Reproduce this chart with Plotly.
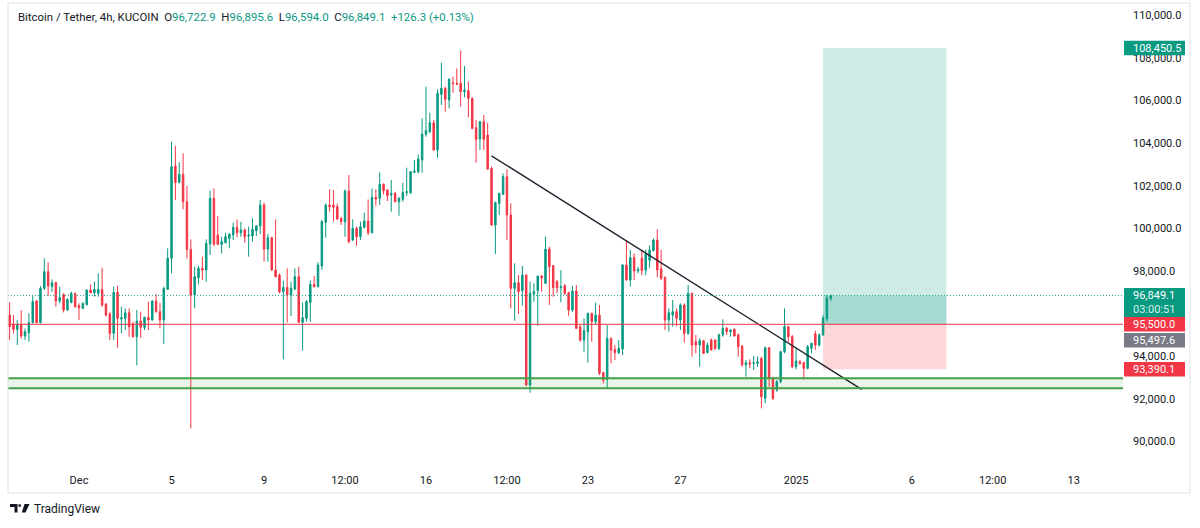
import pandas as pd
import plotly.graph_objects as go

# ---------------- data ----------------
bar_start = "2024-11-28 00:00"   # first 4h bar

opens = [95934, 95465, 95262, 95465, 94950, 95106, 95575, 96591, 95575, 97185,
         97966, 97263, 97451, 96591, 96903, 96169, 96528, 96950, 96372, 96247,
         96419, 97107, 96982, 96950, 97138, 96450, 95981, 95075, 96997, 95747,
         95778, 96044, 95512, 94918, 95653, 95356, 95825, 95700, 96591, 96090,
         95700, 97138, 98592, 102921, 102155, 102530, 101248, 99013, 96872, 97685,
         98123, 98045, 99264, 101405, 99685, 99248, 99326, 99529, 99685, 100045,
         99795, 99920, 99639, 99639, 99889, 100108, 101092, 99029, 99560, 98045,
         97810, 97029, 97232, 96872, 97154, 97732, 95591, 95778, 96528, 97372,
         97263, 98232, 100280, 101092, 101092, 101014, 100466, 100310, 101748, 99450,
         99997, 99606, 100044, 100341, 99794, 101451, 101404, 102060, 101795, 101560,
         101638, 101247, 101357, 101670, 101670, 102623, 102654, 103201, 104405, 104530,
         104952, 103670, 106280, 106562, 106015, 106827, 106796, 106796, 106405, 106452,
         106093, 104717, 104186, 104999, 104374, 102811, 100154, 101170, 101592, 102421,
         100623, 97185, 97451, 97076, 97810, 92652, 96919, 97076, 97763, 97419,
         99029, 98248, 97497, 97216, 97310, 96982, 96169, 97060, 95387, 94762,
         95153, 96013, 95622, 95934, 93230, 92918, 94840, 94324, 94168, 94340,
         98279, 97575, 98623, 98013, 98600, 98040, 98500, 98960, 99452, 98100,
         97702, 95701, 95936, 96092, 95701, 96405, 95076, 96951, 94685, 94529,
         94732, 94170, 94763, 94763, 94373, 94998, 95310, 95154, 95263, 94998,
         94482, 93591, 93700, 93669, 93669, 93904, 92028, 94404, 92966, 92418,
         92810, 94216, 95388, 94920, 93513, 93747, 93700, 93435, 94373, 95050,
         94530, 95000, 95750, 96722.9]

highs = [96528, 95934, 95700, 96169, 95309, 96013, 96825, 96638, 97294, 98592,
         98404, 97607, 97497, 97263, 96950, 96716, 97029, 96982, 96481, 96528,
         97138, 97372, 97497, 97888, 98154, 96481, 96090, 97263, 97310, 96325,
         96247, 96247, 95622, 96169, 96090, 95856, 96559, 96638, 96919, 96513,
         97263, 99061, 104062, 103859, 103093, 103515, 101983, 99482, 98201, 98232,
         98670, 99482, 101764, 101874, 100576, 99607, 99795, 99764, 100264, 100420,
         100311, 99998, 100076, 100467, 100154, 101327, 101202, 99732, 99607, 100420,
         97888, 97544, 98123, 97497, 98123, 98201, 96528, 96638, 97544, 97763,
         98404, 100389, 101170, 101827, 101796, 101170, 100544, 101826, 102498, 100419,
         100075, 100310, 100732, 101357, 101873, 101826, 102623, 102107, 101826, 102263,
         101716, 101482, 102138, 102842, 102686, 103201, 103467, 105155, 106640, 105421,
         105077, 106515, 107765, 106640, 107031, 107109, 107499, 108328, 107609, 106874,
         106140, 105077, 105046, 105311, 104952, 102889, 101248, 101670, 102577, 102765,
         101170, 98357, 97810, 98232, 97841, 97497, 97419, 97779, 97810, 99607,
         99138, 98279, 97575, 98045, 97388, 97029, 97310, 97341, 95465, 95778,
         96044, 96044, 96513, 96403, 93277, 95465, 94887, 94528, 94762, 98326,
         99451, 98982, 98826, 98201, 99000, 99000, 99200, 99530, 99952, 98983,
         97733, 96248, 96639, 96248, 96483, 96483, 97342, 96983, 94998, 94841,
         94763, 94638, 94841, 94795, 95076, 95732, 95388, 95263, 95310, 95076,
         94529, 93825, 93857, 94013, 93982, 93982, 94451, 94420, 93044, 92888,
         94263, 96248, 95420, 94998, 94373, 93825, 93747, 94529, 94638, 95200,
         95076, 95935, 96873, 96895.6]

lows = [94762, 95075, 94528, 94840, 94762, 94684, 95544, 95544, 95544, 97107,
        96825, 97029, 96325, 96481, 96059, 96137, 96481, 96278, 95700, 96216,
        96388, 96950, 96794, 96794, 96325, 95856, 94762, 94762, 94402, 95075,
        95231, 94918, 94887, 93574, 94872, 95231, 95231, 95669, 96044, 95309,
        94575, 97107, 97888, 101327, 102108, 100889, 98592, 90620, 96247, 97372,
        97575, 97497, 98748, 99170, 99217, 98826, 99295, 99061, 99451, 99576,
        99607, 99326, 98670, 99373, 99639, 99732, 98435, 98435, 98013, 97700,
        96950, 93855, 95575, 95887, 97107, 95575, 94262, 95622, 95622, 97232,
        97232, 98045, 99560, 100780, 100311, 100389, 100154, 99606, 99294, 99403,
        99184, 99450, 99997, 99685, 99763, 101060, 101091, 101591, 101279, 100779,
        101216, 100591, 101247, 101513, 101607, 102576, 102576, 102607, 104295, 104452,
        103639, 103311, 105780, 105468, 105624, 106358, 106718, 105702, 106140, 105202,
        104639, 103076, 103670, 103670, 102732, 100122, 98795, 100623, 101561, 99451,
        96247, 95669, 95981, 96372, 92605, 92293, 96559, 95419, 97029, 97388,
        96403, 96794, 96950, 96528, 96872, 95903, 96090, 95278, 94684, 94215,
        93699, 94684, 95465, 93121, 92730, 92496, 93668, 93824, 94106, 94059,
        97544, 97263, 97575, 97888, 97800, 97800, 98150, 98900, 97700, 97577,
        95232, 95154, 95388, 95420, 95232, 94638, 94998, 93982, 94138, 93513,
        94107, 94138, 94263, 94294, 94294, 94920, 94998, 94920, 94920, 93982,
        93513, 93044, 93435, 93357, 93513, 91559, 91794, 92575, 91950, 92341,
        92732, 94138, 94685, 93435, 93388, 93591, 92919, 93388, 94138, 94300,
        94451, 94967, 95623, 96594.0]

closes = [95387, 95262, 95465, 94950, 95153, 95575, 96559, 95575, 97185, 97966,
          97294, 97451, 96591, 96747, 96169, 96669, 96950, 96325, 96278, 96481,
          97107, 96982, 97138, 97138, 96403, 95934, 95075, 96997, 95778, 95809,
          96044, 95387, 94918, 95653, 95356, 95825, 95700, 96591, 96090, 95700,
          97185, 98592, 102890, 102155, 102530, 101248, 99013, 96872, 97732, 98123,
          98045, 99295, 101405, 99248, 99248, 99373, 99607, 99732, 100045, 99795,
          99920, 99607, 99685, 99951, 100108, 101092, 99029, 99560, 98045, 97732,
          97029, 97232, 96872, 97185, 97732, 95591, 95809, 96559, 97372, 97263,
          98279, 100311, 101092, 101014, 100983, 100436, 100310, 101748, 99372, 99997,
          99606, 100075, 100341, 99794, 101451, 101373, 102060, 101763, 101529, 101638,
          101247, 101404, 101685, 101716, 102654, 102686, 103248, 104420, 104577, 104952,
          103670, 106327, 106562, 106046, 106984, 106796, 106749, 106405, 106484, 106093,
          104686, 104170, 104999, 104170, 102779, 100154, 101202, 101639, 102421, 100623,
          97185, 97451, 97029, 97810, 92652, 96950, 97029, 97763, 97685, 99029,
          98201, 97216, 97216, 97263, 96950, 96169, 97060, 95309, 94762, 95200,
          96013, 95622, 95934, 93199, 92886, 94840, 94293, 94168, 94371, 98279,
          97575, 98623, 97998, 98076, 98020, 98800, 98980, 99450, 98046, 97655,
          95701, 96045, 96092, 95779, 96405, 95076, 96951, 94529, 94529, 94732,
          94138, 94529, 94294, 94373, 94998, 95310, 95154, 95232, 94951, 94451,
          93591, 93700, 93637, 93700, 93747, 92106, 94404, 92966, 92028, 92810,
          94216, 95388, 94920, 93513, 93779, 93669, 93435, 94451, 94607, 94530,
          95000, 95800, 96722.8, 96849.1]

symbol_title = "Bitcoin / Tether, 4h, KUCOIN"

tick_dates = ["2024-12-01 00:00", "2024-12-05 00:00", "2024-12-09 00:00",
              "2024-12-12 12:00", "2024-12-16 00:00", "2024-12-19 12:00",
              "2024-12-23 00:00", "2024-12-27 00:00", "2025-01-01 00:00",
              "2025-01-06 00:00", "2025-01-09 12:00", "2025-01-13 00:00"]
tick_labels = ["Dec", "5", "9", "12:00", "16", "12:00", "23", "27", "2025",
               "6", "12:00", "13"]

# 96,000 is hidden behind the price labels in the reference
price_ticks = [90000, 92000, 94000, 98000, 100000, 102000, 104000,
               106000, 108000, 110000]

trend_times = ["2024-12-18 20:00", "2025-01-03 20:00"]
trend_prices = [103400, 92450]

zone_low = 92500
zone_high = 92970
horizontal_level = 95500

position_start = "2025-01-02 04:00"
position_end = "2025-01-07 12:00"
entry_price = 95497.6
target_price = 108450.5
stop_price = 93390.1
countdown = "03:00:51"

# ---------------- layout constants ----------------
W, H = 1200, 528
PL, PR, PT, PB = 8, 1123, 3, 465          # plot area in pixels
Y_MIN, Y_MAX = 88904, 110563

GREEN = "#089981"
RED = "#F23645"
TEXT = "#131722"
FONT = "Roboto"

t0 = pd.Timestamp(bar_start)
times = pd.date_range(bar_start, periods=len(opens), freq="4h")
x_range = [t0 - pd.Timedelta(hours=1.66), t0 + pd.Timedelta(hours=1155.2)]


def pxx(px):
    return (px - PL) / (PR - PL)


def pxy(py):
    return (PB - py) / (PB - PT)


def price_to_py(p):
    return PB - (p - Y_MIN) / (Y_MAX - Y_MIN) * (PB - PT)


fig = go.Figure()

fig.add_trace(go.Candlestick(
    x=times, open=opens, high=highs, low=lows, close=closes,
    increasing=dict(line=dict(color=GREEN, width=1), fillcolor=GREEN),
    decreasing=dict(line=dict(color=RED, width=1), fillcolor=RED),
    whiskerwidth=0, hoverinfo="skip", showlegend=False,
))

fig.add_trace(go.Scatter(
    x=pd.to_datetime(trend_times), y=trend_prices, mode="lines",
    line=dict(color="#1e222d", width=1.4), hoverinfo="skip", showlegend=False,
))

shapes = []
# green support zone
shapes.append(dict(type="rect", xref="paper", yref="y", x0=0, x1=1,
                   y0=zone_low, y1=zone_high, fillcolor="rgba(76,175,80,0.13)",
                   line=dict(width=0), layer="below"))
for lvl in (zone_low, zone_high):
    shapes.append(dict(type="line", xref="paper", yref="y", x0=0, x1=1,
                       y0=lvl, y1=lvl, line=dict(color="#43A047", width=2)))
# long position tool
shapes.append(dict(type="rect", xref="x", yref="y", x0=position_start, x1=position_end,
                   y0=entry_price, y1=target_price, fillcolor="rgba(8,153,129,0.2)",
                   line=dict(width=0), layer="below"))
shapes.append(dict(type="rect", xref="x", yref="y", x0=position_start, x1=position_end,
                   y0=entry_price, y1=closes[-1], fillcolor="rgba(8,153,129,0.2)",
                   line=dict(width=0), layer="below"))
shapes.append(dict(type="rect", xref="x", yref="y", x0=position_start, x1=position_end,
                   y0=stop_price, y1=entry_price, fillcolor="rgba(242,54,69,0.2)",
                   line=dict(width=0), layer="below"))
# horizontal red level and current price line
shapes.append(dict(type="line", xref="paper", yref="y", x0=0, x1=1,
                   y0=horizontal_level, y1=horizontal_level, line=dict(color=RED, width=1)))
shapes.append(dict(type="line", xref="paper", yref="y", x0=0, x1=1,
                   y0=closes[-1], y1=closes[-1],
                   line=dict(color="#22ab94", width=1, dash="1px,2px")))

# outer frame
shapes.append(dict(type="rect", xref="paper", yref="paper", x0=pxx(8), x1=pxx(1190),
                   y0=pxy(493), y1=pxy(3), line=dict(color="#E0E3EB", width=1),
                   fillcolor="rgba(0,0,0,0)", layer="above"))

annotations = []


def price_box(center_py, height, color, lines):
    top = center_py - height / 2
    shapes.append(dict(type="rect", xref="paper", yref="paper",
                       x0=pxx(1124), x1=pxx(1185), y0=pxy(top + height), y1=pxy(top),
                       fillcolor=color, line=dict(width=0), layer="above"))
    n = len(lines)
    for k, (txt, col) in enumerate(lines):
        cy = top + height * (k + 0.5) / n
        annotations.append(dict(xref="paper", yref="paper", x=pxx(1131), y=pxy(cy),
                                xanchor="left", yanchor="middle", showarrow=False,
                                text=txt, font=dict(family=FONT, size=11, color=col)))


price_box(price_to_py(target_price), 14.5, GREEN, [(f"{target_price:,.1f}", "white")])
cur_py = price_to_py(closes[-1])
price_box(cur_py + 7, 29, GREEN, [(f"{closes[-1]:,.1f}", "white"), (countdown, "#d6f0ea")])
price_box(price_to_py(horizontal_level), 14.5, RED, [(f"{horizontal_level:,.1f}", "white")])
price_box(price_to_py(horizontal_level) + 16, 14.5, "#787B86", [(f"{entry_price:,.1f}", "white")])
price_box(price_to_py(stop_price), 14.5, RED, [(f"{stop_price:,.1f}", "white")])

# header
chg = closes[-1] - closes[-2]
pct = chg / closes[-2] * 100
g = lambda s: f'<span style="color:{GREEN}">{s}</span>'
sp = "&nbsp;&nbsp;"
header = (f"{symbol_title}{sp}O{g(f'{opens[-1]:,.1f}')}{sp}H{g(f'{highs[-1]:,.1f}')}"
          f"{sp}L{g(f'{lows[-1]:,.1f}')}{sp}C{g(f'{closes[-1]:,.1f}')}"
          f"{sp}{g(f'{chg:+,.1f} ({pct:+.2f}%)')}")
annotations.append(dict(xref="paper", yref="paper", x=pxx(16), y=pxy(17),
                        xanchor="left", yanchor="middle", showarrow=False,
                        text=header, font=dict(family=FONT, size=11.4, color=TEXT)))

# TradingView logo
shapes.append(dict(type="path", xref="paper", yref="paper",
                   path=(f"M {pxx(10)},{pxy(504)} L {pxx(17.5)},{pxy(504)} L {pxx(17.5)},{pxy(512.5)} "
                         f"L {pxx(14.5)},{pxy(512.5)} L {pxx(14.5)},{pxy(507)} L {pxx(10)},{pxy(507)} Z"),
                   fillcolor=TEXT, line=dict(width=0)))
shapes.append(dict(type="circle", xref="paper", yref="paper",
                   x0=pxx(18.3), x1=pxx(21.0), y0=pxy(507), y1=pxy(504.2),
                   fillcolor=TEXT, line=dict(width=0)))
shapes.append(dict(type="path", xref="paper", yref="paper",
                   path=(f"M {pxx(24.5)},{pxy(504)} L {pxx(29.5)},{pxy(504)} L {pxx(25.5)},{pxy(512.5)} "
                         f"L {pxx(21.8)},{pxy(512.5)} Z"),
                   fillcolor=TEXT, line=dict(width=0)))
annotations.append(dict(xref="paper", yref="paper", x=pxx(32), y=pxy(508.5),
                        xanchor="left", yanchor="middle", showarrow=False,
                        text="TradingView", font=dict(family=FONT, size=12, color=TEXT)))

fig.update_layout(
    width=W, height=H,
    margin=dict(l=PL, r=W - PR, t=PT, b=H - PB, autoexpand=False),
    paper_bgcolor="white", plot_bgcolor="white",
    boxgap=0.45,
    showlegend=False,
    font=dict(family=FONT, size=11, color=TEXT),
    shapes=shapes, annotations=annotations,
    xaxis=dict(range=x_range, rangeslider=dict(visible=False), showgrid=False,
               zeroline=False, showline=False, ticks="", tickvals=pd.to_datetime(tick_dates),
               ticktext=tick_labels, tickfont=dict(family=FONT, size=11, color=TEXT),
               ticklabelstandoff=7, fixedrange=True),
    yaxis=dict(range=[Y_MIN, Y_MAX], side="right", showgrid=False, zeroline=False,
               showline=False, ticks="", tickvals=price_ticks, tickformat=",.1f",
               tickfont=dict(family=FONT, size=11, color=TEXT), ticklabelstandoff=9,
               fixedrange=True),
)

fig.write_html("out.html")
